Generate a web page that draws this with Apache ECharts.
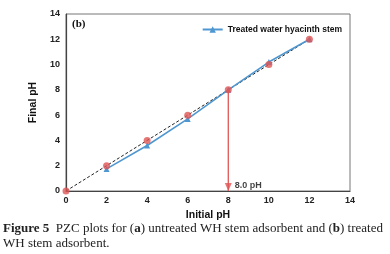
<!DOCTYPE html>
<html>
<head>
<meta charset="utf-8">
<script src="https://cdn.jsdelivr.net/npm/echarts@6/dist/echarts.min.js"></script>
<style>
  html, body { margin: 0; padding: 0; background: #fff; }
  #chart { width: 390px; height: 254px; }
</style>
</head>
<body>
<div id="chart"></div>
<script>
// data
var initialPH = [2, 4, 6, 8, 10, 12];
var treatedFinal = [1.75, 3.6, 5.7, 8.0, 10.2, 12.0];
var refX = [0, 2, 4, 6, 8, 10, 12];
var refY = [0, 2, 4, 6, 8, 10, 12];
var diagonal = [[0, 0], [12, 12]];
var pzc = 8.0;

var chart = echarts.init(document.getElementById('chart'));

var tickFont = { color: '#222', fontSize: 9, fontWeight: 'bold', fontFamily: 'Liberation Sans' };

chart.setOption({
  animation: false,
  grid: { left: 66, right: 40, top: 14, bottom: 63, show: true, borderColor: '#777', borderWidth: 1 },
  legend: {
    right: 43, top: 20,
    itemWidth: 20, itemHeight: 8, itemGap: 2,
    data: ['Treated water hyacinth stem'],
    textStyle: { color: '#111', fontSize: 8.5, fontWeight: 'bold', fontFamily: 'Liberation Sans' }
  },
  xAxis: {
    type: 'value', min: 0, max: 14, interval: 2,
    name: 'Initial pH', nameLocation: 'middle', nameGap: 17,
    nameTextStyle: { color: '#111', fontSize: 10.5, fontWeight: 'bold', fontFamily: 'Liberation Sans' },
    axisLine: { show: true, lineStyle: { color: '#444', width: 1.2 } },
    axisTick: { show: false },
    splitLine: { show: false },
    axisLabel: Object.assign({ margin: 5 }, tickFont)
  },
  yAxis: {
    type: 'value', min: 0, max: 14, interval: 2,
    name: 'Final pH', nameLocation: 'middle', nameGap: 19, nameRotate: 90,
    nameTextStyle: { color: '#111', fontSize: 10.5, fontWeight: 'bold', fontFamily: 'Liberation Sans' },
    axisLine: { show: true, lineStyle: { color: '#444', width: 1.2 } },
    axisTick: { show: false },
    splitLine: { show: false },
    axisLabel: Object.assign({ margin: 6 }, tickFont)
  },
  series: [
    {
      name: 'diagonal', type: 'line', data: diagonal,
      symbol: 'none', silent: true,
      lineStyle: { color: '#222', width: 1, type: [3, 2] },
      z: 2
    },
    {
      name: 'Treated water hyacinth stem', type: 'line',
      data: initialPH.map(function (x, i) { return [x, treatedFinal[i]]; }),
      symbol: 'triangle', symbolSize: 6,
      lineStyle: { color: '#4f97d0', width: 1.6 },
      itemStyle: { color: '#4f97d0' },
      z: 3
    },
    {
      name: 'pzcLine', type: 'line',
      data: [[pzc, pzc], [pzc, 0]],
      symbol: 'none', silent: true, clip: false,
      lineStyle: { color: '#e05555', width: 1.3 },
      z: 4
    },
    {
      name: 'pzcArrow', type: 'scatter',
      data: [[pzc, 0]], silent: true, clip: false,
      symbol: 'triangle', symbolSize: [7, 8], symbolRotate: 180, symbolOffset: [0, -4],
      itemStyle: { color: '#e05555' },
      label: {
        show: true, position: 'right', distance: 3, offset: [0, -1],
        formatter: pzc.toFixed(1) + ' pH',
        color: '#111', fontSize: 9, fontWeight: 'bold', fontFamily: 'Liberation Sans'
      },
      z: 6
    },
    {
      name: 'reference', type: 'scatter',
      data: refX.map(function (x, i) { return [x, refY[i]]; }),
      symbol: 'circle', symbolSize: 7,
      itemStyle: { color: '#e05555' },
      z: 5
    }
  ],
  graphic: [
    {
      type: 'text', left: 72, top: 19,
      style: { text: '(b)', fontSize: 11, fontWeight: 'bold', fontFamily: 'Liberation Serif', fill: '#111' }
    },
    {
      type: 'text', left: 3, top: 221,
      style: {
        text: '{b|Figure 5}  PZC plots for ({b|a}) untreated WH stem adsorbent and ({b|b}) treated\nWH stem adsorbent.',
        fontSize: 13, fontFamily: 'Liberation Serif', fill: '#222', lineHeight: 15,
        rich: { b: { fontWeight: 'bold', fontSize: 13, fontFamily: 'Liberation Serif', fill: '#222' } }
      }
    }
  ]
});
</script>
</body>
</html>
